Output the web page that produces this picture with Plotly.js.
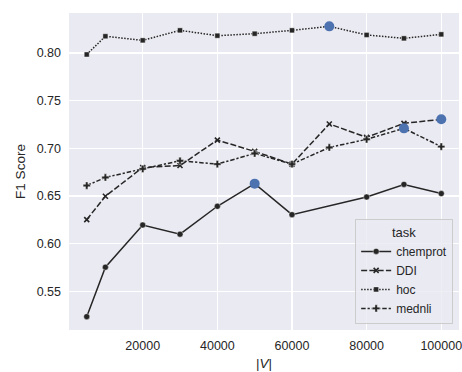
<!DOCTYPE html>
<html>
<head>
<meta charset="utf-8">
<script src="https://cdn.plot.ly/plotly-3.0.1.min.js"></script>
<style>html,body{margin:0;padding:0;background:#fff;}#chart{width:462px;height:372px;}</style>
</head>
<body>
<div id="chart"></div>
<script>
const vocabSizes = [5000, 10000, 20000, 30000, 40000, 50000, 60000, 70000, 80000, 90000, 100000];
const chemprot = [0.5235, 0.5754, 0.6196, 0.6100, 0.6393, 0.6630, 0.6305, null, 0.6490, 0.6622, 0.6526];
const ddi      = [0.6253, 0.6498, 0.6800, 0.6820, 0.7087, 0.6968, 0.6835, 0.7256, 0.7116, 0.7263, 0.7305];
const hoc      = [0.7985, 0.8176, 0.8133, 0.8238, 0.8182, 0.8203, 0.8238, 0.8280, 0.8190, 0.8154, 0.8196];
const mednli   = [0.6610, 0.6695, 0.6785, 0.6870, 0.6835, 0.6947, 0.6835, 0.7010, 0.7095, 0.7210, 0.7018];
const taskNames = ["chemprot", "DDI", "hoc", "mednli"];
const tickVals = [20000, 40000, 60000, 80000, 100000];
const yTickVals = [0.55, 0.60, 0.65, 0.70, 0.75, 0.80];

const seriesList = [chemprot, ddi, hoc, mednli];
const styles = [
  {dash: "solid", symbol: "circle", size: 6},
  {dash: "6px,2.25px", symbol: "x-thin-open", size: 5},
  {dash: "1.5px,1.5px", symbol: "square", size: 5},
  {dash: "4.5px,1.9px,2.25px,1.9px", symbol: "cross", size: 6}
];
const lineColor = "#262626";
const traces = seriesList.map((ys, i) => ({
  x: vocabSizes, y: ys, name: taskNames[i], type: "scatter", mode: "lines+markers",
  connectgaps: true,
  line: {color: lineColor, width: 1.5, dash: styles[i].dash},
  marker: {color: lineColor, symbol: styles[i].symbol, size: styles[i].size,
           line: {color: styles[i].symbol === "x-thin-open" ? lineColor : "#ffffff", width: styles[i].symbol === "x-thin-open" ? 1.6 : 0.4}}
}));
// best point of each task
const bestX = [], bestY = [];
seriesList.forEach(ys => {
  let bi = 0;
  ys.forEach((v, j) => { if (v !== null && v > ys[bi]) bi = j; });
  bestX.push(vocabSizes[bi]); bestY.push(ys[bi]);
});
traces.push({x: bestX, y: bestY, type: "scatter", mode: "markers", showlegend: false,
  marker: {color: "#4C72B0", size: 10, line: {width: 0}}, hoverinfo: "skip"});

const font = {family: "Liberation Sans, Arial, sans-serif", color: "#262626"};
const layout = {
  width: 462, height: 372,
  margin: {l: 69, r: 3, t: 13, b: 42},
  paper_bgcolor: "#ffffff", plot_bgcolor: "#EAEAF2",
  font: Object.assign({size: 12.5}, font),
  xaxis: {range: [250, 104750], tickvals: tickVals, ticktext: tickVals.map(String),
    showgrid: true, gridcolor: "#ffffff", gridwidth: 1.2, zeroline: false, showline: false,
    ticks: "", tickfont: Object.assign({size: 12.5}, font), ticklabeloverflow: "allow",
    ticklabelstandoff: 6,
    title: {text: "|<i>V</i>|", font: Object.assign({size: 13.5}, font), standoff: 7}},
  yaxis: {range: [0.5095, 0.842], tickvals: yTickVals, ticktext: yTickVals.map(v => v.toFixed(2)),
    showgrid: true, gridcolor: "#ffffff", gridwidth: 1.2, zeroline: false, showline: false,
    ticks: "", tickfont: Object.assign({size: 12.5}, font), ticklabelstandoff: 7,
    title: {text: "F1 Score", font: Object.assign({size: 13.5}, font), standoff: 7}},
  legend: {x: 0.985, xanchor: "right", y: 0.019, yanchor: "bottom",
    bgcolor: "rgba(234,234,242,0.8)", bordercolor: "#cccccc", borderwidth: 1,
    font: Object.assign({size: 12}, font),
    title: {text: "task", side: "top center", font: Object.assign({size: 13}, font)},
    itemwidth: 30, tracegroupgap: 0},
  showlegend: true
};
Plotly.newPlot("chart", traces, layout, {displayModeBar: false, staticPlot: true});
</script>
</body>
</html>
